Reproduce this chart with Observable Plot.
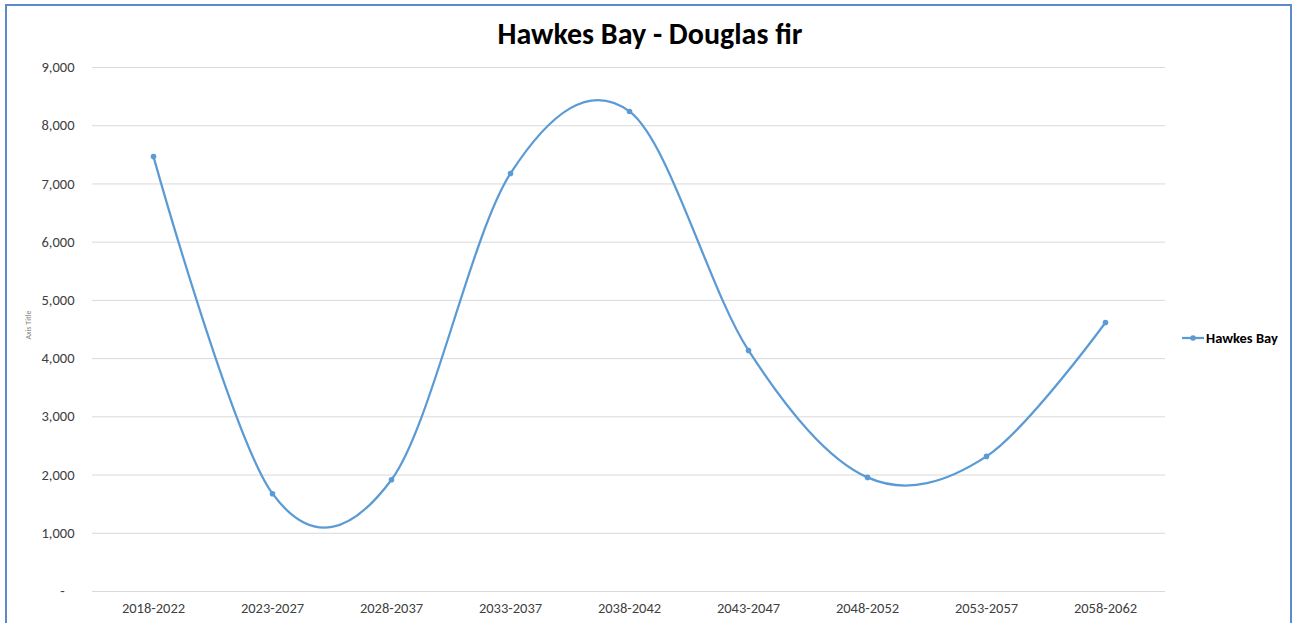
<!DOCTYPE html>
<html>
<head>
<meta charset="utf-8">
<script src="https://cdn.jsdelivr.net/npm/d3@7"></script>
<script src="https://cdn.jsdelivr.net/npm/@observablehq/plot@0.6"></script>
<style>
  html, body { margin: 0; padding: 0; background: #fff; width: 1293px; height: 623px; overflow: hidden; }
  body { position: relative; font-family: Carlito, Lato, "Liberation Sans", sans-serif; }
  #frame { position: absolute; left: 5px; top: 4px; width: 1287px; height: 660px; border: 2px solid #5d8ac8; box-sizing: border-box; }
  #title { position: absolute; left: 0; width: 1300px; top: 15px; text-align: center; font-size: 30px; font-weight: bold; color: #000; }
  #ytitle { position: absolute; left: 28px; top: 325px; font-size: 8px; color: #8a7f7f; transform: translate(-50%, -50%) rotate(-90deg); white-space: nowrap; }
  #legend { position: absolute; left: 1182px; top: 329px; display: flex; align-items: center; font-size: 14.5px; font-weight: bold; color: #000; }
  #legend svg { margin-right: 2px; }
  #chart { position: absolute; left: 0; top: 0; }
</style>
</head>
<body>
<div id="frame"></div>
<div id="title">Hawkes Bay - Douglas fir</div>
<div id="ytitle">Axis Title</div>
<div id="chart"></div>
<div id="legend"><svg width="22" height="10"><line x1="0" y1="5" x2="22" y2="5" stroke="#5b9bd5" stroke-width="2.25"/><circle cx="11" cy="5" r="2.8" fill="#5b9bd5"/></svg>Hawkes Bay</div>
<script>
const periods = ["2018-2022", "2023-2027", "2028-2037", "2033-2037", "2038-2042", "2043-2047", "2048-2052", "2053-2057", "2058-2062"];
const values = [7470, 1680, 1920, 7180, 8245, 4140, 1960, 2320, 4620];
const yTicks = [0, 1000, 2000, 3000, 4000, 5000, 6000, 7000, 8000, 9000];

const data = periods.map((p, i) => ({period: p, value: values[i]}));
const fmt = d3.format(",");

const plot = Plot.plot({
  width: 1293,
  height: 623,
  marginTop: 67,
  marginBottom: 32,
  marginLeft: 92,
  marginRight: 128,
  style: {fontFamily: "Carlito, Lato, 'Liberation Sans', sans-serif", fontSize: "14.5px", color: "#404040", background: "transparent"},
  x: {type: "point", domain: periods, padding: 0.5, label: null},
  y: {domain: [0, 9000], label: null},
  marks: [
    Plot.gridY(yTicks, {stroke: "#d9d9d9", strokeOpacity: 1}),
    Plot.axisY(yTicks, {tickSize: 0, tickPadding: 18, tickFormat: d => d === 0 ? "-\u00a0\u00a0\u00a0" : fmt(d), label: null, fill: "#404040"}),
    Plot.axisX({tickSize: 0, tickPadding: 11, label: null, fill: "#404040"}),
    Plot.ruleY([0], {stroke: "#d9d9d9"}),
    Plot.line(data, {x: "period", y: "value", curve: "cardinal", stroke: "#5b9bd5", strokeWidth: 2.25}),
    Plot.dot(data, {x: "period", y: "value", r: 2.8, fill: "#5b9bd5"})
  ]
});
document.getElementById("chart").appendChild(plot);
</script>
</body>
</html>
